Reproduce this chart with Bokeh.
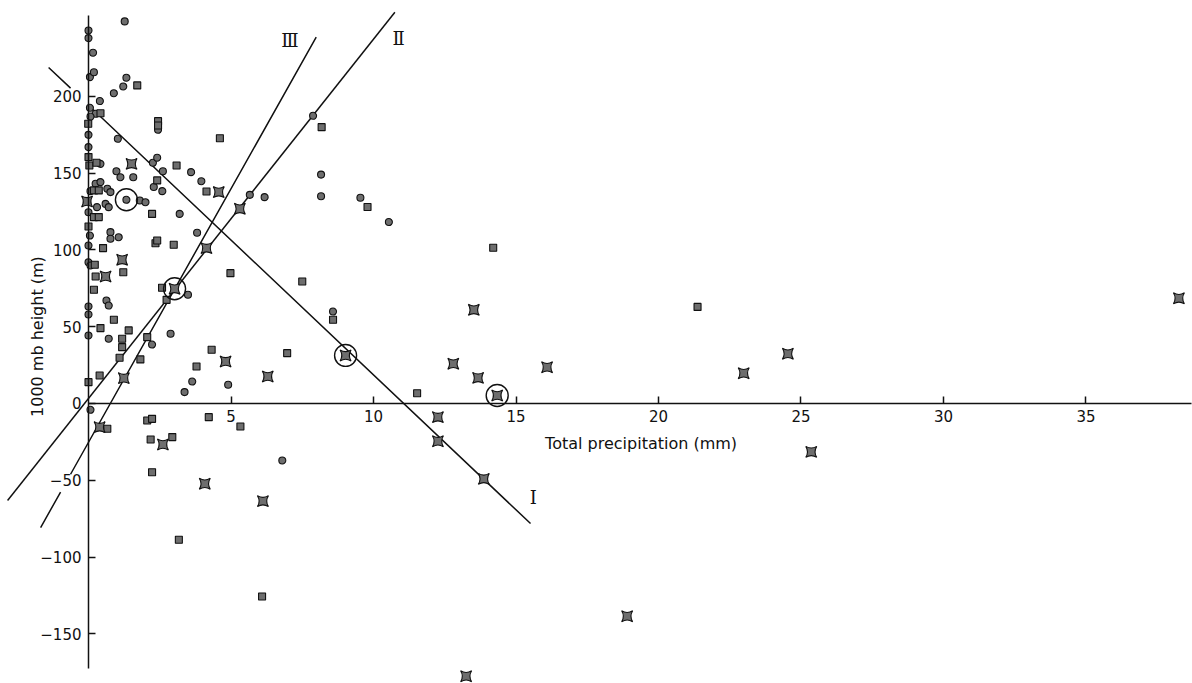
import math
from bokeh.plotting import figure
from bokeh.models import Range1d, LinearAxis, FixedTicker, Label
from bokeh.core.properties import value
from bokeh.embed import file_html
from bokeh.resources import INLINE

nan = float("nan")

# ---- data (total precipitation mm, 1000 mb height m) ----
circle_x = [1.27, 0.0, 0.0, 0.16, 0.05, 0.19, 1.33, 1.22, 0.89, 0.40, 0.05, 0.25, 0.07, 2.44, 0.0,
            1.03, 0.0, 0.42, 2.26, 2.41, 2.61, 3.60, 3.96, 0.98, 1.12, 1.57, 2.29, 2.59, 0.07, 0.25,
            0.42, 0.66, 0.77, 1.33, 1.80, 2.00, 0.30, 0.60, 0.71, 3.20, 0.0, 0.05, 0.77, 0.77, 1.06,
            3.81, 0.0, 0.0, 0.07, 3.49, 0.63, 0.71, 0.0, 0.0, 0.0, 2.88, 0.71, 2.23, 3.64, 3.37,
            4.90, 0.07, 6.80, 7.88, 8.16, 8.16, 9.54, 10.54, 5.66, 6.18, 8.58]
circle_y = [248.9, 243.0, 238.0, 228.5, 212.6, 215.8, 212.2, 206.5, 202.1, 197.0, 192.6, 188.7, 186.9, 178.3, 175.0,
            172.4, 167.0, 156.1, 156.8, 160.1, 151.3, 150.7, 144.8, 151.3, 147.4, 147.4, 141.0, 138.3, 138.3, 143.1,
            144.2, 139.9, 137.7, 132.7, 132.2, 131.1, 127.9, 130.0, 127.9, 123.5, 124.6, 109.4, 111.6, 107.3, 108.3,
            111.2, 102.9, 92.0, 89.9, 70.8, 67.1, 63.8, 63.2, 58.0, 44.3, 45.4, 42.2, 38.4, 14.3, 7.4,
            12.2, -4.1, -37.1, 187.4, 149.1, 135.0, 134.0, 118.2, 135.9, 134.4, 59.9]

square_x = [1.71, 0.42, -0.01, 2.44, 2.44, 4.61, 0.0, 0.03, 0.28, 3.09, 2.41, 4.14, 0.19, 0.36, 2.23,
            0.19, 0.36, 0.0, 2.35, 2.41, 2.99, 0.51, 0.22, 1.22, 0.25, 4.98, 0.19, 2.58, 2.74, 0.89,
            0.42, 1.41, 1.18, 1.18, 2.06, 1.09, 1.82, 4.32, 3.79, 0.39, 0.0, 2.06, 2.23, 4.22, 5.33,
            0.66, 2.18, 2.94, 2.23, 3.17, 6.09, 8.18, 9.79, 7.50, 8.58, 6.97, 11.53, 14.20, 21.37]
square_y = [207.2, 189.1, 182.2, 183.9, 181.1, 172.8, 160.5, 155.0, 156.8, 155.0, 145.3, 138.1, 138.8, 138.8, 123.5,
            121.4, 121.4, 115.3, 104.4, 106.2, 103.4, 101.2, 90.4, 85.5, 82.7, 84.9, 74.1, 75.4, 67.5, 54.5,
            49.1, 47.6, 42.2, 36.7, 43.2, 29.8, 28.7, 35.0, 24.1, 18.2, 13.9, -11.1, -10.0, -8.9, -15.0,
            -16.5, -23.5, -21.9, -44.8, -88.8, -125.7, 180.0, 128.0, 79.5, 54.5, 32.8, 6.7, 101.4, 62.9]

star_x = [1.51, 4.57, -0.05, 4.14, 1.18, 0.60, 3.02, 4.81, 1.24, 0.39, 2.61, 4.08, 6.12, 5.31, 6.29,
          9.02, 13.52, 12.80, 13.67, 14.34, 16.09, 12.26, 12.26, 13.87, 22.99, 24.54, 25.36, 38.26, 18.90, 13.25]
star_y = [156.1, 137.7, 131.6, 101.2, 93.6, 82.7, 74.7, 27.4, 16.5, -15.4, -26.7, -52.3, -63.6, 126.8, 17.6,
          31.3, 61.0, 25.9, 16.7, 5.2, 23.6, -8.9, -24.6, -49.1, 19.7, 32.4, -31.5, 68.5, -138.6, -177.7]

ring_x = [1.33, 3.02, 9.02, 14.34]
ring_y = [132.7, 74.7, 31.3, 5.2]

line_I_x = [-1.40, -0.63, nan, 0.0, 15.51]
line_I_y = [218.9, 205.4, nan, 194.3, -78.2]
line_II_x = [-2.84, 10.75]
line_II_y = [-63.2, 254.9]
line_III_x = [-1.68, -0.98, nan, -0.63, 7.99]
line_III_y = [-80.8, -57.7, nan, -46.1, 238.6]

numeral_text = ["Ⅰ", "Ⅱ", "Ⅲ"]
numeral_x = [15.61, 10.88, 7.07]
numeral_y = [-61.2, 237.8, 236.5]

x_ticks = [5, 10, 15, 20, 25, 30, 35]
y_ticks = [-150, -100, -50, 0, 50, 100, 150, 200]
y_tick_labels = ["−150", "−100", "−50", "0", "50", "100", "150", "200"]

x_title = "Total precipitation (mm)"
y_title = "1000 mb height (m)"

# ---- figure ----
p = figure(width=1192, height=683,
           x_range=Range1d(-3.088, 38.737), y_range=Range1d(-182.4, 262.5),
           output_backend="svg", toolbar_location=None,
           x_axis_location=None, y_axis_location=None,
           min_border=0, outline_line_color=None)
p.grid.visible = False

FONT = "DejaVu Sans"
INK = "#111111"

xaxis = LinearAxis(fixed_location=0, ticker=FixedTicker(ticks=x_ticks), bounds=(0, 38.7))
yaxis = LinearAxis(fixed_location=0, ticker=FixedTicker(ticks=y_ticks), bounds=(-172.5, 252.5))
yaxis.major_label_overrides = {t: s for t, s in zip(y_ticks, y_tick_labels)}
for ax in (xaxis, yaxis):
    ax.major_tick_in = 7
    ax.major_tick_out = 0
    ax.minor_tick_in = 0
    ax.minor_tick_out = 0
    ax.axis_line_width = 1.5
    ax.axis_line_color = INK
    ax.major_tick_line_width = 1.5
    ax.major_tick_line_color = INK
    ax.major_label_text_font = FONT
    ax.major_label_text_font_size = "15px"
    ax.major_label_text_color = INK
    ax.major_label_standoff = 7
p.add_layout(xaxis, "below")
p.add_layout(yaxis, "left")

# regression lines
p.line(line_I_x, line_I_y, line_color=INK, line_width=1.5)
p.line(line_II_x, line_II_y, line_color=INK, line_width=1.5)
p.line(line_III_x, line_III_y, line_color=INK, line_width=1.5)

# markers
MFILL = "#6e6e6e"
MLINE = "#111111"
p.scatter(circle_x, circle_y, marker="circle", size=7, fill_color=MFILL, line_color=MLINE, line_width=1.1)
p.scatter(square_x, square_y, marker="square", size=7, fill_color=MFILL, line_color=MLINE, line_width=1.1)
p.scatter(star_x, star_y, marker="square_pin", size=11, fill_color=MFILL, line_color=MLINE, line_width=1.1)
p.scatter(ring_x, ring_y, marker="circle", size=22, fill_color=None, line_color=INK, line_width=1.4)

# line labels
p.text(numeral_x, numeral_y, text=numeral_text, text_font=value("DejaVu Serif"),
       text_font_size="18px", text_align="center", text_baseline="middle", text_color=INK)

# axis titles
p.add_layout(Label(x=19.39, y=-26.1, text=x_title, text_align="center", text_baseline="middle",
                   text_font=FONT, text_font_size="16px", text_color=INK))
p.add_layout(Label(x=-1.79, y=43.6, text=y_title, angle=math.pi / 2, text_align="center",
                   text_baseline="middle", text_font=FONT, text_font_size="16px", text_color=INK))

open("out.html", "w").write(file_html(p, INLINE))
